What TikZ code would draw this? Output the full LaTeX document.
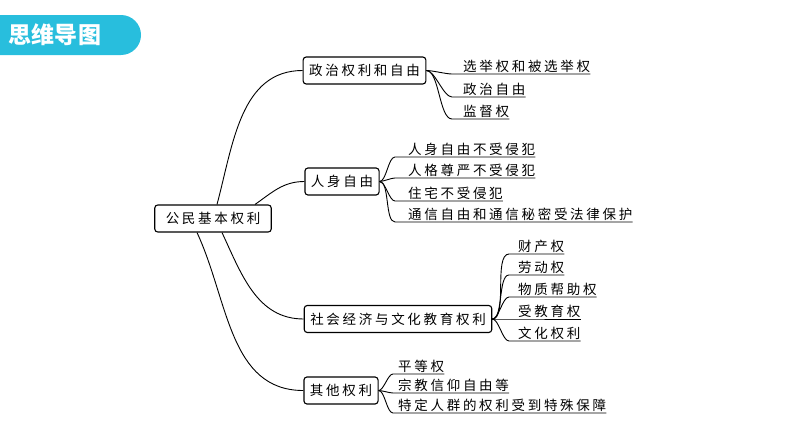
\documentclass[tikz,border=0pt]{standalone}
\usepackage{fontspec}
\newfontfamily\cjk[LetterSpace=20]{Noto Sans CJK SC}
\newfontfamily\cjkhead{Noto Sans CJK SC}
\definecolor{tabblue}{RGB}{40,190,221}
\tikzset{
  topic/.style={draw, line width=1.1pt, rounded corners=3pt, minimum height=27pt,
                inner xsep=6pt, font=\cjk\fontsize{13.5}{14}\selectfont},
  leaf/.style={inner xsep=0pt, inner ysep=1pt, anchor=south west,
               font=\cjk\fontsize{13.5}{14}\selectfont},
  branch/.style={line width=0.9pt},
}
\begin{document}
\begin{tikzpicture}[x=1pt, y=-1pt]
\useasboundingbox (0,0) rectangle (794,447);
% header tab
\fill[tabblue] (0,15) [rounded corners=20pt] -- (141,15) -- (141,55) [sharp corners] -- (0,55) -- cycle;
\node[text=white, font=\cjkhead\bfseries\fontsize{23}{24}\selectfont] (head) at (55,35) {思维导图};

% main topics
\node[topic, inner xsep=11pt] (root) at (213,218.5) {公民基本权利};
\node[topic] (pol) at (364.5,70.5) {政治权利和自由};
\node[topic] (per) at (342,181.5) {人身自由};
\node[topic] (soc) at (398,319) {社会经济与文化教育权利};
\node[topic] (oth) at (341,390.5) {其他权利};

% leaves
\node[leaf] (pol1) at (463,74) {选举权和被选举权};
\node[leaf] (pol2) at (463,97) {政治自由};
\node[leaf] (pol3) at (463,119) {监督权};

\node[leaf] (per1) at (408,157) {人身自由不受侵犯};
\node[leaf] (per2) at (408,178) {人格尊严不受侵犯};
\node[leaf] (per3) at (408,201) {住宅不受侵犯};
\node[leaf] (per4) at (408,222) {通信自由和通信秘密受法律保护};

\node[leaf] (soc1) at (518,254) {财产权};
\node[leaf] (soc2) at (518,275) {劳动权};
\node[leaf] (soc3) at (518,297) {物质帮助权};
\node[leaf] (soc4) at (518,319) {受教育权};
\node[leaf] (soc5) at (518,341) {文化权利};

\node[leaf] (oth1) at (398,374) {平等权};
\node[leaf] (oth2) at (398,393) {宗教信仰自由等};
\node[leaf] (oth3) at (398,413) {特定人群的权利受到特殊保障};

% root branches
\draw[branch] ([xshift=4pt]root.north) to[out=75, in=180] (pol.west);
\draw[branch] ([xshift=42pt]root.north) to[out=35, in=180] (per.west);
\draw[branch] ([xshift=9pt]root.south) to[out=-65, in=180] (soc.west);
\draw[branch] ([xshift=-16pt]root.south) to[out=-65, in=180] (oth.west);

% leaf branches and underlines
\foreach \p/\g/\list in {pol/11/{1,2,3}, per/13/{1,2,3,4}, soc/9/{1,2,3,4,5}, oth/5/{1,2,3}}
  \foreach \i in \list {
    \draw[branch] (\p.east) to[out=0, in=180, looseness=0.6] ([xshift=-\g pt]\p\i.south west)
                  -- (\p\i.south east);
  }
\end{tikzpicture}
\end{document}
